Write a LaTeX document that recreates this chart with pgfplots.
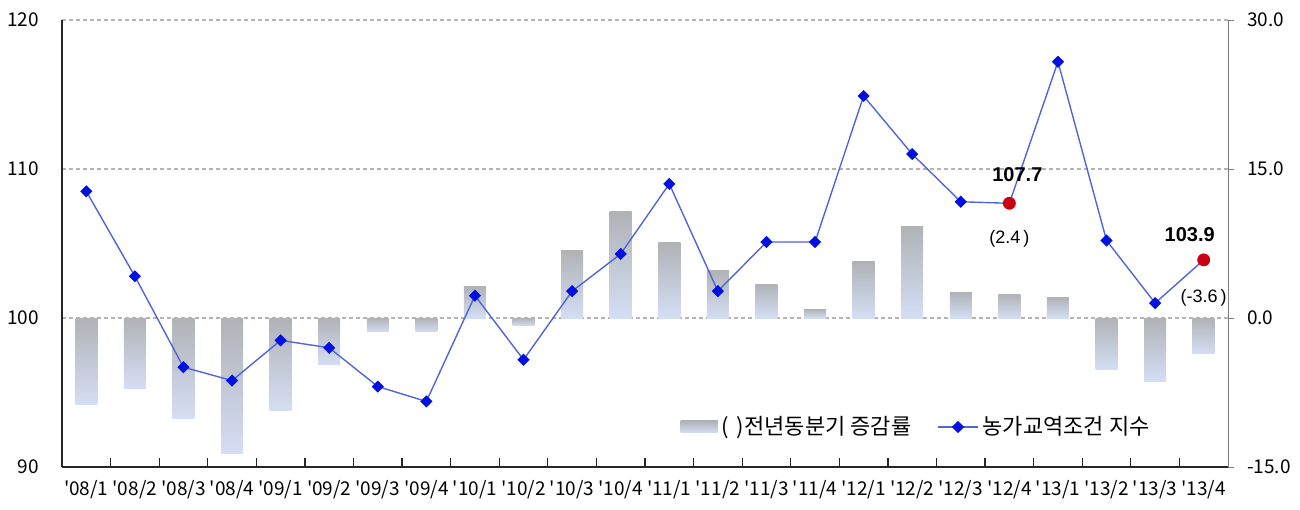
\documentclass[border=0pt]{standalone}
\usepackage{fontspec}
\setmainfont{Noto Sans CJK KR}
\newfontfamily\numfont{Liberation Sans}
\usepackage{pgfplots}
\pgfplotsset{compat=1.18}
\definecolor{bartop}{HTML}{B0B2B6}
\definecolor{barbot}{HTML}{D4DEF4}
\definecolor{linecol}{HTML}{5066D8}
\definecolor{markcol}{HTML}{0010E0}
\definecolor{gridcol}{HTML}{B4B4B4}
\definecolor{redpt}{HTML}{C80010}
\newcommand{\q}{\textquotesingle}
\pgfplotsset{
  mylinelegend/.style={legend image code/.code={\draw[mark repeat=2,mark phase=2,##1] plot coordinates {(0pt,0pt) (10pt,0pt) (20pt,0pt)};}},
  mybarlegend/.style={legend image code/.code={\path[draw=none,top color=bartop,bottom color=barbot] (0pt,-3pt) rectangle (18.5pt,3pt);}},
}
% one shaded bar per category (growth rate, right axis)
\newcommand{\gbar}[2]{\addplot[draw=none, top color=bartop, bottom color=barbot, bar shift=0pt] coordinates {(#1,#2)};}
\begin{document}
\begin{tikzpicture}
\useasboundingbox (0,0) rectangle (650pt,254.5pt);
% right axis: growth-rate bars
\begin{axis}[
  at={(31pt,21pt)}, anchor=south west,
  scale only axis, width=583pt, height=223.5pt,
  xmin=-0.5, xmax=23.5, ymin=-15, ymax=30,
  axis x line=none,
  axis y line*=right,
  axis line style={-, draw=gray},
  ytick={-15,0,15,30},
  ymajorgrids,
  grid style={gridcol, dash pattern=on 2pt off 1.5pt, line width=0.6pt},
  yticklabel style={/pgf/number format/fixed, /pgf/number format/fixed zerofill,
     /pgf/number format/precision=1, /pgf/number format/assume math mode=true,
     font=\fontsize{9.5}{11}\selectfont, xshift=3pt},
  tick align=outside, major tick length=3pt, ytick style={gray},
  ybar, bar width=11pt,
]
\gbar{0}{-8.7} \gbar{1}{-7.1} \gbar{2}{-10.1} \gbar{3}{-13.6}
\gbar{4}{-9.3} \gbar{5}{-4.7} \gbar{6}{-1.4} \gbar{7}{-1.4}
\gbar{8}{3.2} \gbar{9}{-0.8} \gbar{10}{6.8} \gbar{11}{10.7}
\gbar{12}{7.6} \gbar{13}{4.8} \gbar{14}{3.4} \gbar{15}{0.9}
\gbar{16}{5.7} \gbar{17}{9.2} \gbar{18}{2.6} \gbar{19}{2.4}
\gbar{20}{2.1} \gbar{21}{-5.2} \gbar{22}{-6.4} \gbar{23}{-3.6}
\end{axis}
% left axis: index line
\begin{axis}[
  at={(31pt,21pt)}, anchor=south west,
  scale only axis, width=583pt, height=223.5pt,
  xmin=-0.5, xmax=23.5, ymin=90, ymax=120,
  axis x line*=bottom, axis y line*=left,
  axis line style={-, draw=black!85, line width=0.7pt},
  ytick={90,100,110,120}, ytick style={draw=none},
  yticklabel style={/pgf/number format/assume math mode=true,
     font=\fontsize{9.5}{11}\selectfont, xshift=-8pt},
  xtick={0.5,1.5,...,22.5}, xticklabels={},
  tick align=inside, major tick length=4.5pt, xtick style={black!85, line width=0.6pt},
  extra x ticks={0,1,...,23},
  extra x tick labels={\q08/1,\q08/2,\q08/3,\q08/4,\q09/1,\q09/2,\q09/3,\q09/4,
    \q10/1,\q10/2,\q10/3,\q10/4,\q11/1,\q11/2,\q11/3,\q11/4,
    \q12/1,\q12/2,\q12/3,\q12/4,\q13/1,\q13/2,\q13/3,\q13/4},
  extra x tick style={major tick length=0pt, xticklabel style={font=\fontsize{9.5}{12}\selectfont, yshift=-3pt}},
  legend style={at={(0.525,0.0895)}, anchor=west, draw=none, fill=none,
    legend columns=2, font=\fontsize{11}{13}\selectfont,
    /tikz/every even column/.append style={column sep=11pt}},
]
\addlegendimage{mybarlegend}
\addlegendentry{(\hspace{4pt})전년동분기 증감률}
\addplot[linecol, line width=0.7pt, mark=square*, mark size=1.8pt,
  mark options={rotate=45, fill=markcol, draw=markcol}, mylinelegend]
coordinates {
(0,108.5) (1,102.8) (2,96.7) (3,95.8) (4,98.5) (5,98.0) (6,95.4) (7,94.4)
(8,101.5) (9,97.2) (10,101.8) (11,104.3) (12,109.0) (13,101.8) (14,105.1) (15,105.1)
(16,114.9) (17,111.0) (18,107.8) (19,107.7) (20,117.2) (21,105.2) (22,101.0) (23,103.9)};
\addlegendentry{농가교역조건 지수}
\addplot[only marks, mark=*, mark size=3pt, mark options={fill=redpt, draw=redpt}, forget plot]
coordinates {(19,107.7) (23,103.9)};
\node[font=\numfont\bfseries\fontsize{10}{12}\selectfont, xshift=4pt, yshift=14.5pt] at (axis cs:19,107.7) {107.7};
\node[font=\numfont\fontsize{9}{11}\selectfont, yshift=-18pt] at (axis cs:19,107.7) {(2.4\,)};
\node[font=\numfont\bfseries\fontsize{10}{12}\selectfont, xshift=-7pt, yshift=12.5pt] at (axis cs:23,103.9) {103.9};
\node[font=\numfont\fontsize{9}{11}\selectfont, yshift=-19pt] at (axis cs:23,103.9) {(-3.6\,)};
\end{axis}
\end{tikzpicture}
\end{document}
